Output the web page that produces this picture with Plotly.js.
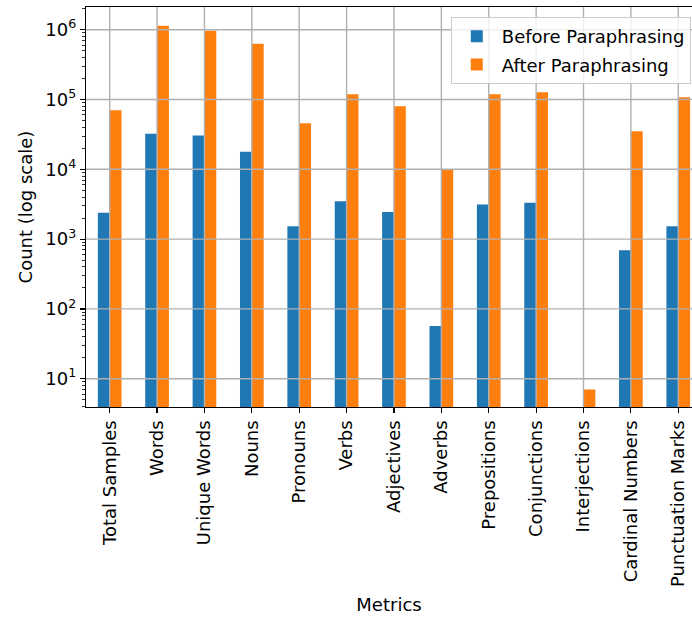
<!DOCTYPE html>
<html>
<head>
<meta charset="utf-8">
<script src="https://cdn.plot.ly/plotly-3.0.1.min.js"></script>
<style>html,body{margin:0;padding:0;background:#fff;}#chart{width:692px;height:617px;}</style>
</head>
<body>
<div id="chart"></div>
<script>
const categories = ["Total Samples","Words","Unique Words","Nouns","Pronouns","Verbs","Adjectives","Adverbs","Prepositions","Conjunctions","Interjections","Cardinal Numbers","Punctuation Marks"];
const beforeValues = [2380, 32400, 30400, 17900, 1530, 3500, 2440, 57, 3120, 3330, null, 695, 1530];
const afterValues = [70300, 1140000, 968000, 631000, 45700, 119000, 80200, 9900, 119000, 127000, 7, 35100, 108000];
const yTickExponents = [1, 2, 3, 4, 5, 6];

const FONT = "DejaVu Sans, sans-serif";
const FS = 18;
const gridColor = "#b0b0b0";

const traces = [
  {type: "bar", name: "Before Paraphrasing", x: categories, y: beforeValues,
   marker: {color: "#1f77b4", line: {width: 0}}, legendgroup: "a"},
  {type: "bar", name: "After Paraphrasing", x: categories, y: afterValues,
   marker: {color: "#ff7f0e", line: {width: 0}}, legendgroup: "b"}
];

const minorVals = [];
for (let e = 0; e <= 6; e++) {
  for (let m = 2; m <= 9; m++) minorVals.push(m * Math.pow(10, e));
}

const shapes = [];
yTickExponents.forEach(e => {
  const v = Math.pow(10, e);
  shapes.push({type: "line", xref: "paper", yref: "y", x0: 0, x1: 1, y0: v, y1: v,
    line: {color: gridColor, width: 1.4}, layer: "above"});
});
categories.forEach((c, i) => {
  shapes.push({type: "line", xref: "x", yref: "paper", x0: i, x1: i, y0: 0, y1: 1,
    line: {color: gridColor, width: 1.4}, layer: "above"});
});

const layout = {
  width: 692, height: 617,
  margin: {l: 86, r: 0, t: 7, b: 210},
  paper_bgcolor: "#fff", plot_bgcolor: "#fff",
  font: {family: FONT, size: FS, color: "#000"},
  barmode: "group", bargap: 0.5, bargroupgap: 0,
  showlegend: true,
  legend: {x: 0.998, y: 0.975, xanchor: "right", yanchor: "top",
    bgcolor: "rgba(255,255,255,0.8)", bordercolor: "#cccccc", borderwidth: 1,
    font: {family: FONT, size: FS, color: "#000"},
    traceorder: "grouped", tracegroupgap: 2, itemwidth: 40},
  xaxis: {
    type: "category", range: [-0.5, 12.29],
    tickangle: -90, ticks: "outside", ticklen: 5, tickwidth: 1.2, tickcolor: "#000",
    showline: true, linecolor: "#000", linewidth: 1.2, mirror: true,
    showgrid: false, zeroline: false,
    tickfont: {family: FONT, size: FS, color: "#000"},
    title: {text: "Metrics", font: {family: FONT, size: FS, color: "#000"}, standoff: 12},
    automargin: false
  },
  yaxis: {
    type: "log", range: [0.595, 6.325],
    tickmode: "array",
    tickvals: yTickExponents.map(e => Math.pow(10, e)),
    ticktext: yTickExponents.map(e => "10<sup>" + e + "</sup>"),
    ticks: "outside", ticklen: 5, tickwidth: 1.2, tickcolor: "#000",
    minor: {tickmode: "array", tickvals: minorVals, ticks: "outside", ticklen: 3, tickwidth: 0.8, tickcolor: "#000", showgrid: false},
    showline: true, linecolor: "#000", linewidth: 1.2, mirror: false,
    showgrid: false, zeroline: false,
    tickfont: {family: FONT, size: FS, color: "#000"},
    title: {text: "Count (log scale)", font: {family: FONT, size: FS, color: "#000"}, standoff: 8},
    automargin: false
  },
  shapes: shapes
};

Plotly.newPlot("chart", traces, layout, {displayModeBar: false, staticPlot: true});
</script>
</body>
</html>
